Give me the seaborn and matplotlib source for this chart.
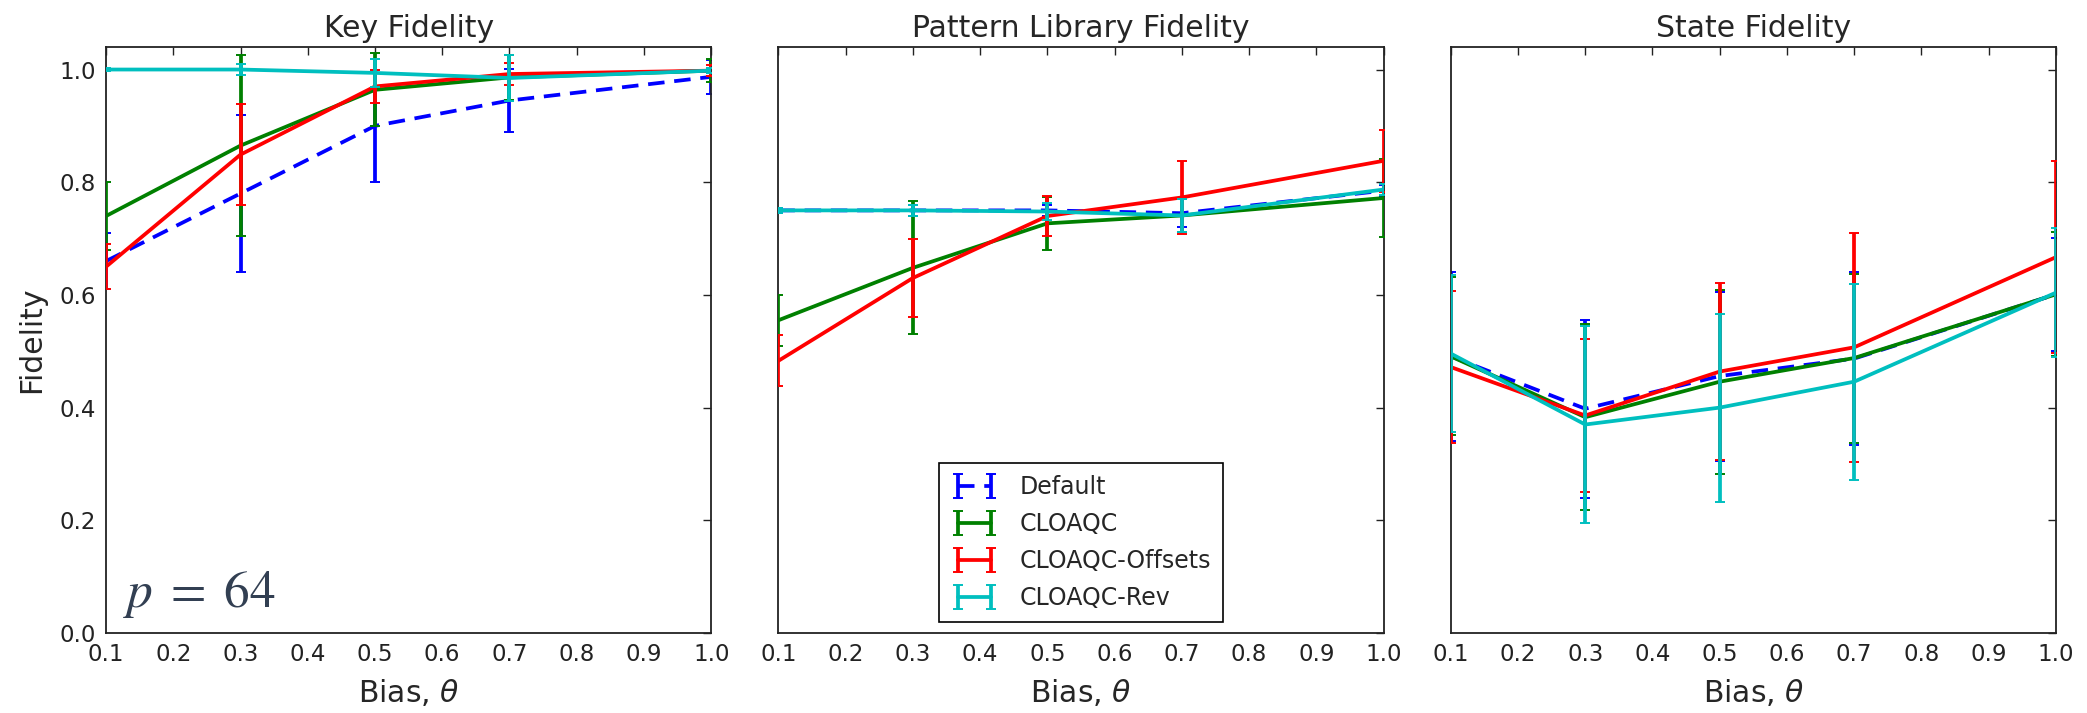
import numpy as np
import pandas as pd
import matplotlib
matplotlib.use("Agg")
import matplotlib.pyplot as plt
import seaborn as sns
from matplotlib.container import ErrorbarContainer

# ---------------- data ----------------
bias = [0.1, 0.3, 0.5, 0.7, 1.0]
methods = ["Default", "CLOAQC", "CLOAQC-Offsets", "CLOAQC-Rev"]
panel_titles = ["Key Fidelity", "Pattern Library Fidelity", "State Fidelity"]

key_default = [0.66, 0.78, 0.90, 0.945, 0.987]
key_default_err = [0.05, 0.14, 0.10, 0.056, 0.03]
key_cloaqc = [0.74, 0.865, 0.964, 0.986, 0.998]
key_cloaqc_err = [0.06, 0.16, 0.065, 0.04, 0.02]
key_offsets = [0.65, 0.849, 0.970, 0.992, 0.998]
key_offsets_err = [0.04, 0.09, 0.03, 0.02, 0.01]
key_rev = [1.0, 1.0, 0.994, 0.985, 0.998]
key_rev_err = [0.002, 0.01, 0.025, 0.04, 0.005]

pat_default = [0.75, 0.75, 0.75, 0.745, 0.785]
pat_default_err = [0.005, 0.01, 0.01, 0.025, 0.01]
pat_cloaqc = [0.555, 0.648, 0.727, 0.741, 0.772]
pat_cloaqc_err = [0.045, 0.118, 0.047, 0.03, 0.07]
pat_offsets = [0.483, 0.630, 0.740, 0.773, 0.838]
pat_offsets_err = [0.045, 0.07, 0.035, 0.065, 0.055]
pat_rev = [0.75, 0.75, 0.748, 0.741, 0.787]
pat_rev_err = [0.005, 0.01, 0.015, 0.03, 0.01]

state_default = [0.491, 0.398, 0.456, 0.487, 0.601]
state_default_err = [0.15, 0.158, 0.15, 0.153, 0.10]
state_cloaqc = [0.491, 0.383, 0.446, 0.488, 0.601]
state_cloaqc_err = [0.14, 0.165, 0.163, 0.15, 0.11]
state_offsets = [0.472, 0.386, 0.464, 0.507, 0.667]
state_offsets_err = [0.135, 0.136, 0.157, 0.203, 0.17]
state_rev = [0.496, 0.370, 0.400, 0.446, 0.604]
state_rev_err = [0.14, 0.175, 0.167, 0.174, 0.115]

xticks = [0.1, 0.2, 0.3, 0.4, 0.5, 0.6, 0.7, 0.8, 0.9, 1.0]
yticks = [0.0, 0.2, 0.4, 0.6, 0.8, 1.0]

panels = [
    [(key_default, key_default_err), (key_cloaqc, key_cloaqc_err),
     (key_offsets, key_offsets_err), (key_rev, key_rev_err)],
    [(pat_default, pat_default_err), (pat_cloaqc, pat_cloaqc_err),
     (pat_offsets, pat_offsets_err), (pat_rev, pat_rev_err)],
    [(state_default, state_default_err), (state_cloaqc, state_cloaqc_err),
     (state_offsets, state_offsets_err), (state_rev, state_rev_err)],
]

# ---------------- style ----------------
sns.set_style("white")
plt.rcParams["font.family"] = ["DejaVu Sans"]
plt.rcParams.update({
    "xtick.direction": "in", "ytick.direction": "in",
    "xtick.top": True, "ytick.right": True,
    "xtick.major.size": 6, "ytick.major.size": 6,
    "xtick.major.width": 1.0, "ytick.major.width": 1.0,
    "axes.edgecolor": "#222222", "axes.linewidth": 1.3,
    "xtick.color": "#222222", "ytick.color": "#222222",
})

colors = ["#0000ff", "#008000", "#ff0000", "#00bfbf"]
lw = 2.7
styles = [(0, (4.4, 2.6)), "-", "-", "-"]

fig, axes = plt.subplots(1, 3, figsize=(20.87, 7.13), dpi=100, sharey=True)
fig.subplots_adjust(left=0.0508, right=0.9851, bottom=0.1122, top=0.9341, wspace=0.111)

legend_handles = []
for pi, ax in enumerate(axes):
    for mi, (vals, errs) in enumerate(panels[pi]):
        df = pd.DataFrame({"bias": bias, "fid": vals})
        sns.lineplot(data=df, x="bias", y="fid", ax=ax, color=colors[mi],
                     linewidth=lw, linestyle=styles[mi], errorbar=None,
                     legend=False, zorder=2 + mi)
        line = ax.lines[-1]
        eb = ax.errorbar(bias, vals, yerr=errs, fmt="none", ecolor=colors[mi],
                         elinewidth=lw, capsize=3.6, capthick=1.4, zorder=2 + mi)
        if pi == 0:
            legend_handles.append(ErrorbarContainer((line, eb.lines[1], eb.lines[2]),
                                                    has_xerr=False, has_yerr=True,
                                                    label=methods[mi]))
    ax.set_xlim(0.1, 1.0)
    ax.set_ylim(0.0, 1.04)
    ax.set_xticks(xticks)
    ax.set_yticks(yticks)
    ax.set_xticklabels([f"{t:.1f}" for t in xticks])
    ax.tick_params(axis="both", labelsize=16.5, pad=7)
    ax.set_title(panel_titles[pi], fontsize=21.5, pad=7)
    ax.set_xlabel(r"Bias, $\theta$", fontsize=21.5, labelpad=8)
    ax.set_ylabel("")
    for s in ax.spines.values():
        s.set_visible(True)

axes[0].set_yticklabels([f"{t:.1f}" for t in yticks])
axes[0].set_ylabel("Fidelity", fontsize=21.5, labelpad=10)
for ax in axes[1:]:
    ax.tick_params(axis="y", labelleft=False)

axes[0].text(0.028, 0.044, r"$p\;=\;64$", transform=axes[0].transAxes,
             fontsize=37, color="#323f52", math_fontfamily="stix",
             ha="left", va="baseline")

leg = axes[1].legend(handles=legend_handles, labels=methods, loc="lower center",
                     bbox_to_anchor=(0.5, 0.019), borderaxespad=0, fontsize=17,
                     numpoints=2, handlelength=2.0, handletextpad=0.9,
                     labelspacing=0.55, borderpad=0.5, fancybox=False,
                     framealpha=1, edgecolor="black")
leg.get_frame().set_linewidth(1.2)

fig.savefig("out.png", dpi=100)
